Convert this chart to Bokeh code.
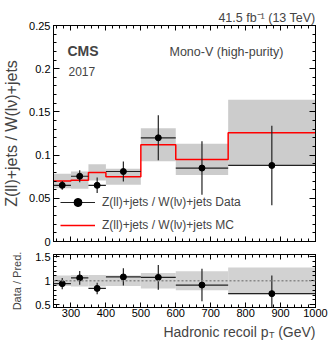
import math
import numpy as np
from bokeh.plotting import figure
from bokeh.layouts import column
from bokeh.models import (FixedTicker, LinearAxis, Label, Legend, LegendItem,
                          Span, Range1d)
from bokeh.embed import file_html
from bokeh.resources import INLINE

# ---------------- data ----------------
bin_edges = [250, 300, 350, 400, 500, 600, 750, 1000]
data_vals = [0.065, 0.0755, 0.065, 0.081, 0.120, 0.085, 0.088]
data_errs = [0.005, 0.007, 0.009, 0.0115, 0.026, 0.031, 0.046]
mc_vals = [0.070, 0.071, 0.080, 0.075, 0.112, 0.095, 0.126]
mc_errs = [0.0085, 0.010, 0.0095, 0.0093, 0.019, 0.018, 0.038]
ratio_vals = [0.94, 1.06, 0.84, 1.08, 1.07, 0.91, 0.73]
ratio_errs = [0.12, 0.145, 0.12, 0.18, 0.26, 0.34, 0.38]
ratio_band = [0.11, 0.12, 0.12, 0.11, 0.16, 0.20, 0.28]

y_ticks = [0, 0.05, 0.1, 0.15, 0.2, 0.25]
y_tick_labels = ["0", "0.05", "0.1", "0.15", "0.2", "0.25"]
x_ticks = [300, 400, 500, 600, 700, 800, 900, 1000]
r_ticks = [0.5, 1, 1.5]
r_tick_labels = ["0.5", "1", "1.5"]

label_data = "Z(ll)+jets / W(lν)+jets Data"
label_mc = "Z(ll)+jets / W(lν)+jets MC"
y_title = "Z(ll)+jets / W(lν)+jets"
r_title = "Data / Pred."
lumi_text = "41.5 fb⁻¹ (13 TeV)"

FONT = "Liberation Sans"

lo = bin_edges[:-1]
hi = bin_edges[1:]
cen = [(a + b) / 2 for a, b in zip(lo, hi)]


def style_axis(ax, ticks, minor, labels=None, show=True, tin=6, mtin=3):
    ax.ticker = FixedTicker(ticks=ticks, minor_ticks=list(minor))
    ax.major_tick_in = tin
    ax.major_tick_out = 0
    ax.minor_tick_in = mtin
    ax.minor_tick_out = 0
    ax.axis_line_color = "black"
    ax.major_tick_line_color = "black"
    ax.minor_tick_line_color = "black"
    ax.major_label_text_font = FONT
    ax.major_label_text_font_size = "11px"
    ax.major_label_text_color = "black"
    ax.major_label_standoff = 3
    if labels is not None:
        ax.major_label_overrides = dict(zip(ticks, labels))
    if not show:
        ax.major_label_overrides = {t: "" for t in ticks}
        ax.major_label_standoff = 0


x_minor = np.arange(260, 1001, 20).tolist()
y_minor = np.round(np.arange(0, 0.2501, 0.01), 3).tolist()
r_minor = np.round(np.arange(0.5, 1.51, 0.1), 2).tolist()

xr = Range1d(250, 1000)

# ---------------- top panel ----------------
p1 = figure(frame_width=262, frame_height=216, x_range=xr,
            y_range=Range1d(0, 0.25), output_backend="svg",
            toolbar_location=None, min_border_left=50, min_border_right=20,
            min_border_top=25, min_border_bottom=6,
            outline_line_color="black", background_fill_color="white")
p1.grid.visible = False
style_axis(p1.xaxis[0], x_ticks, x_minor, show=False, tin=5)
style_axis(p1.yaxis[0], y_ticks, y_minor, labels=y_tick_labels, tin=6)
ax_top = LinearAxis()
style_axis(ax_top, x_ticks, x_minor, show=False, tin=5)
p1.add_layout(ax_top, "above")
ax_right = LinearAxis()
style_axis(ax_right, y_ticks, y_minor, show=False, tin=6)
p1.add_layout(ax_right, "right")

p1.title.text = lumi_text
p1.title.align = "right"
p1.title.text_font = FONT
p1.title.text_font_style = "normal"
p1.title.text_font_size = "12.5px"
p1.title.standoff = 1

p1.yaxis[0].axis_label = y_title
p1.yaxis[0].axis_label_text_font = FONT
p1.yaxis[0].axis_label_text_font_style = "normal"
p1.yaxis[0].axis_label_text_font_size = "16px"
p1.yaxis[0].axis_label_standoff = 6

p1.quad(left=lo, right=hi,
        bottom=[m - e for m, e in zip(mc_vals, mc_errs)],
        top=[m + e for m, e in zip(mc_vals, mc_errs)],
        fill_color="#cccccc", line_color=None)
mc_line = p1.step(x=bin_edges, y=mc_vals + [mc_vals[-1]], mode="after",
                  line_color="#ff0000", line_width=1.5)
hseg = p1.segment(x0=lo, x1=hi, y0=data_vals, y1=data_vals,
                  line_color="#222222", line_width=1.2)
p1.segment(x0=cen, x1=cen,
           y0=[d - e for d, e in zip(data_vals, data_errs)],
           y1=[d + e for d, e in zip(data_vals, data_errs)],
           line_color="#222222", line_width=1.2)
dots = p1.scatter(x=cen, y=data_vals, size=6, marker="circle",
                  fill_color="black", line_color="black")
vcross = p1.scatter(x=[math.nan], y=[math.nan], marker="cross", size=8,
                    line_color="#222222", line_width=1.2)

legend = Legend(items=[LegendItem(label=label_data, renderers=[hseg, vcross, dots]),
                       LegendItem(label=label_mc, renderers=[mc_line])],
                location=(7, 6), padding=0, margin=0, spacing=3,
                glyph_width=35, glyph_height=20, label_height=20,
                label_standoff=7, border_line_color=None,
                background_fill_alpha=0,
                label_text_font=FONT, label_text_font_size="12px")
p1.add_layout(legend)

p1.add_layout(Label(x=250, y=0.25, text="CMS", text_align="left",
                    text_baseline="alphabetic", x_offset=14, y_offset=-25,
                    text_font=FONT, text_font_style="bold",
                    text_font_size="14px"))
p1.add_layout(Label(x=250, y=0.25, text="2017", text_align="left",
                    text_baseline="alphabetic", x_offset=15, y_offset=-46,
                    text_font=FONT, text_font_size="12px"))
p1.add_layout(Label(x=250, y=0.25, text="Mono-V (high-purity)", text_align="left",
                    text_baseline="alphabetic", x_offset=116, y_offset=-26,
                    text_font=FONT, text_font_size="12.5px"))

# ---------------- ratio panel ----------------
p2 = figure(frame_width=262, frame_height=53, x_range=xr,
            y_range=Range1d(0.44, 1.55), output_backend="svg",
            toolbar_location=None, min_border_left=50, min_border_right=20,
            min_border_top=7, min_border_bottom=14,
            outline_line_color="black", background_fill_color="white")
p2.grid.visible = False
style_axis(p2.xaxis[0], x_ticks, x_minor, tin=5)
p2.xaxis[0].major_label_standoff = 1
style_axis(p2.yaxis[0], r_ticks, r_minor, labels=r_tick_labels, tin=6)
ax_top2 = LinearAxis()
style_axis(ax_top2, x_ticks, x_minor, show=False, tin=5)
p2.add_layout(ax_top2, "above")
ax_right2 = LinearAxis()
style_axis(ax_right2, r_ticks, r_minor, show=False, tin=6)
p2.add_layout(ax_right2, "right")

p2.yaxis[0].axis_label = r_title
p2.yaxis[0].axis_label_text_font = FONT
p2.yaxis[0].axis_label_text_font_style = "normal"
p2.yaxis[0].axis_label_text_font_size = "11px"
p2.yaxis[0].axis_label_standoff = 9

p2.quad(left=lo, right=hi,
        bottom=[1 - b for b in ratio_band], top=[1 + b for b in ratio_band],
        fill_color="#d2d2d2", line_color=None)
p2.add_layout(Span(location=1, dimension="width", line_color="#888888",
                   line_dash="2 2", line_width=1.5))
p2.segment(x0=lo, x1=hi, y0=ratio_vals, y1=ratio_vals,
           line_color="#222222", line_width=1.2)
p2.segment(x0=cen, x1=cen,
           y0=[d - e for d, e in zip(ratio_vals, ratio_errs)],
           y1=[d + e for d, e in zip(ratio_vals, ratio_errs)],
           line_color="#222222", line_width=1.2)
p2.scatter(x=cen, y=ratio_vals, size=6, marker="circle",
           fill_color="black", line_color="black")

# ---------------- strip for the x-axis title (p_T with subscript) ----------------
p3 = figure(frame_width=262, frame_height=24, x_range=xr, y_range=Range1d(0, 1),
            output_backend="svg", toolbar_location=None,
            x_axis_location=None, y_axis_location=None,
            min_border_left=50, min_border_right=20, min_border_top=0,
            min_border_bottom=0, outline_line_color=None,
            background_fill_color="white")
p3.grid.visible = False
p3.add_layout(Label(x=1000, y=1, text="(GeV)", text_align="right",
                    text_baseline="alphabetic", y_offset=-10, text_font=FONT,
                    text_font_size="14px"))
p3.add_layout(Label(x=1000, y=1, text="T", text_align="right",
                    text_baseline="alphabetic", x_offset=-41, y_offset=-13,
                    text_font=FONT, text_font_size="9px"))
p3.add_layout(Label(x=1000, y=1, text="Hadronic recoil p", text_align="right",
                    text_baseline="alphabetic", x_offset=-47, y_offset=-10,
                    text_font=FONT, text_font_size="14px"))

layout = column(p1, p2, p3, spacing=0)
open("out.html", "w").write(file_html(layout, INLINE))
